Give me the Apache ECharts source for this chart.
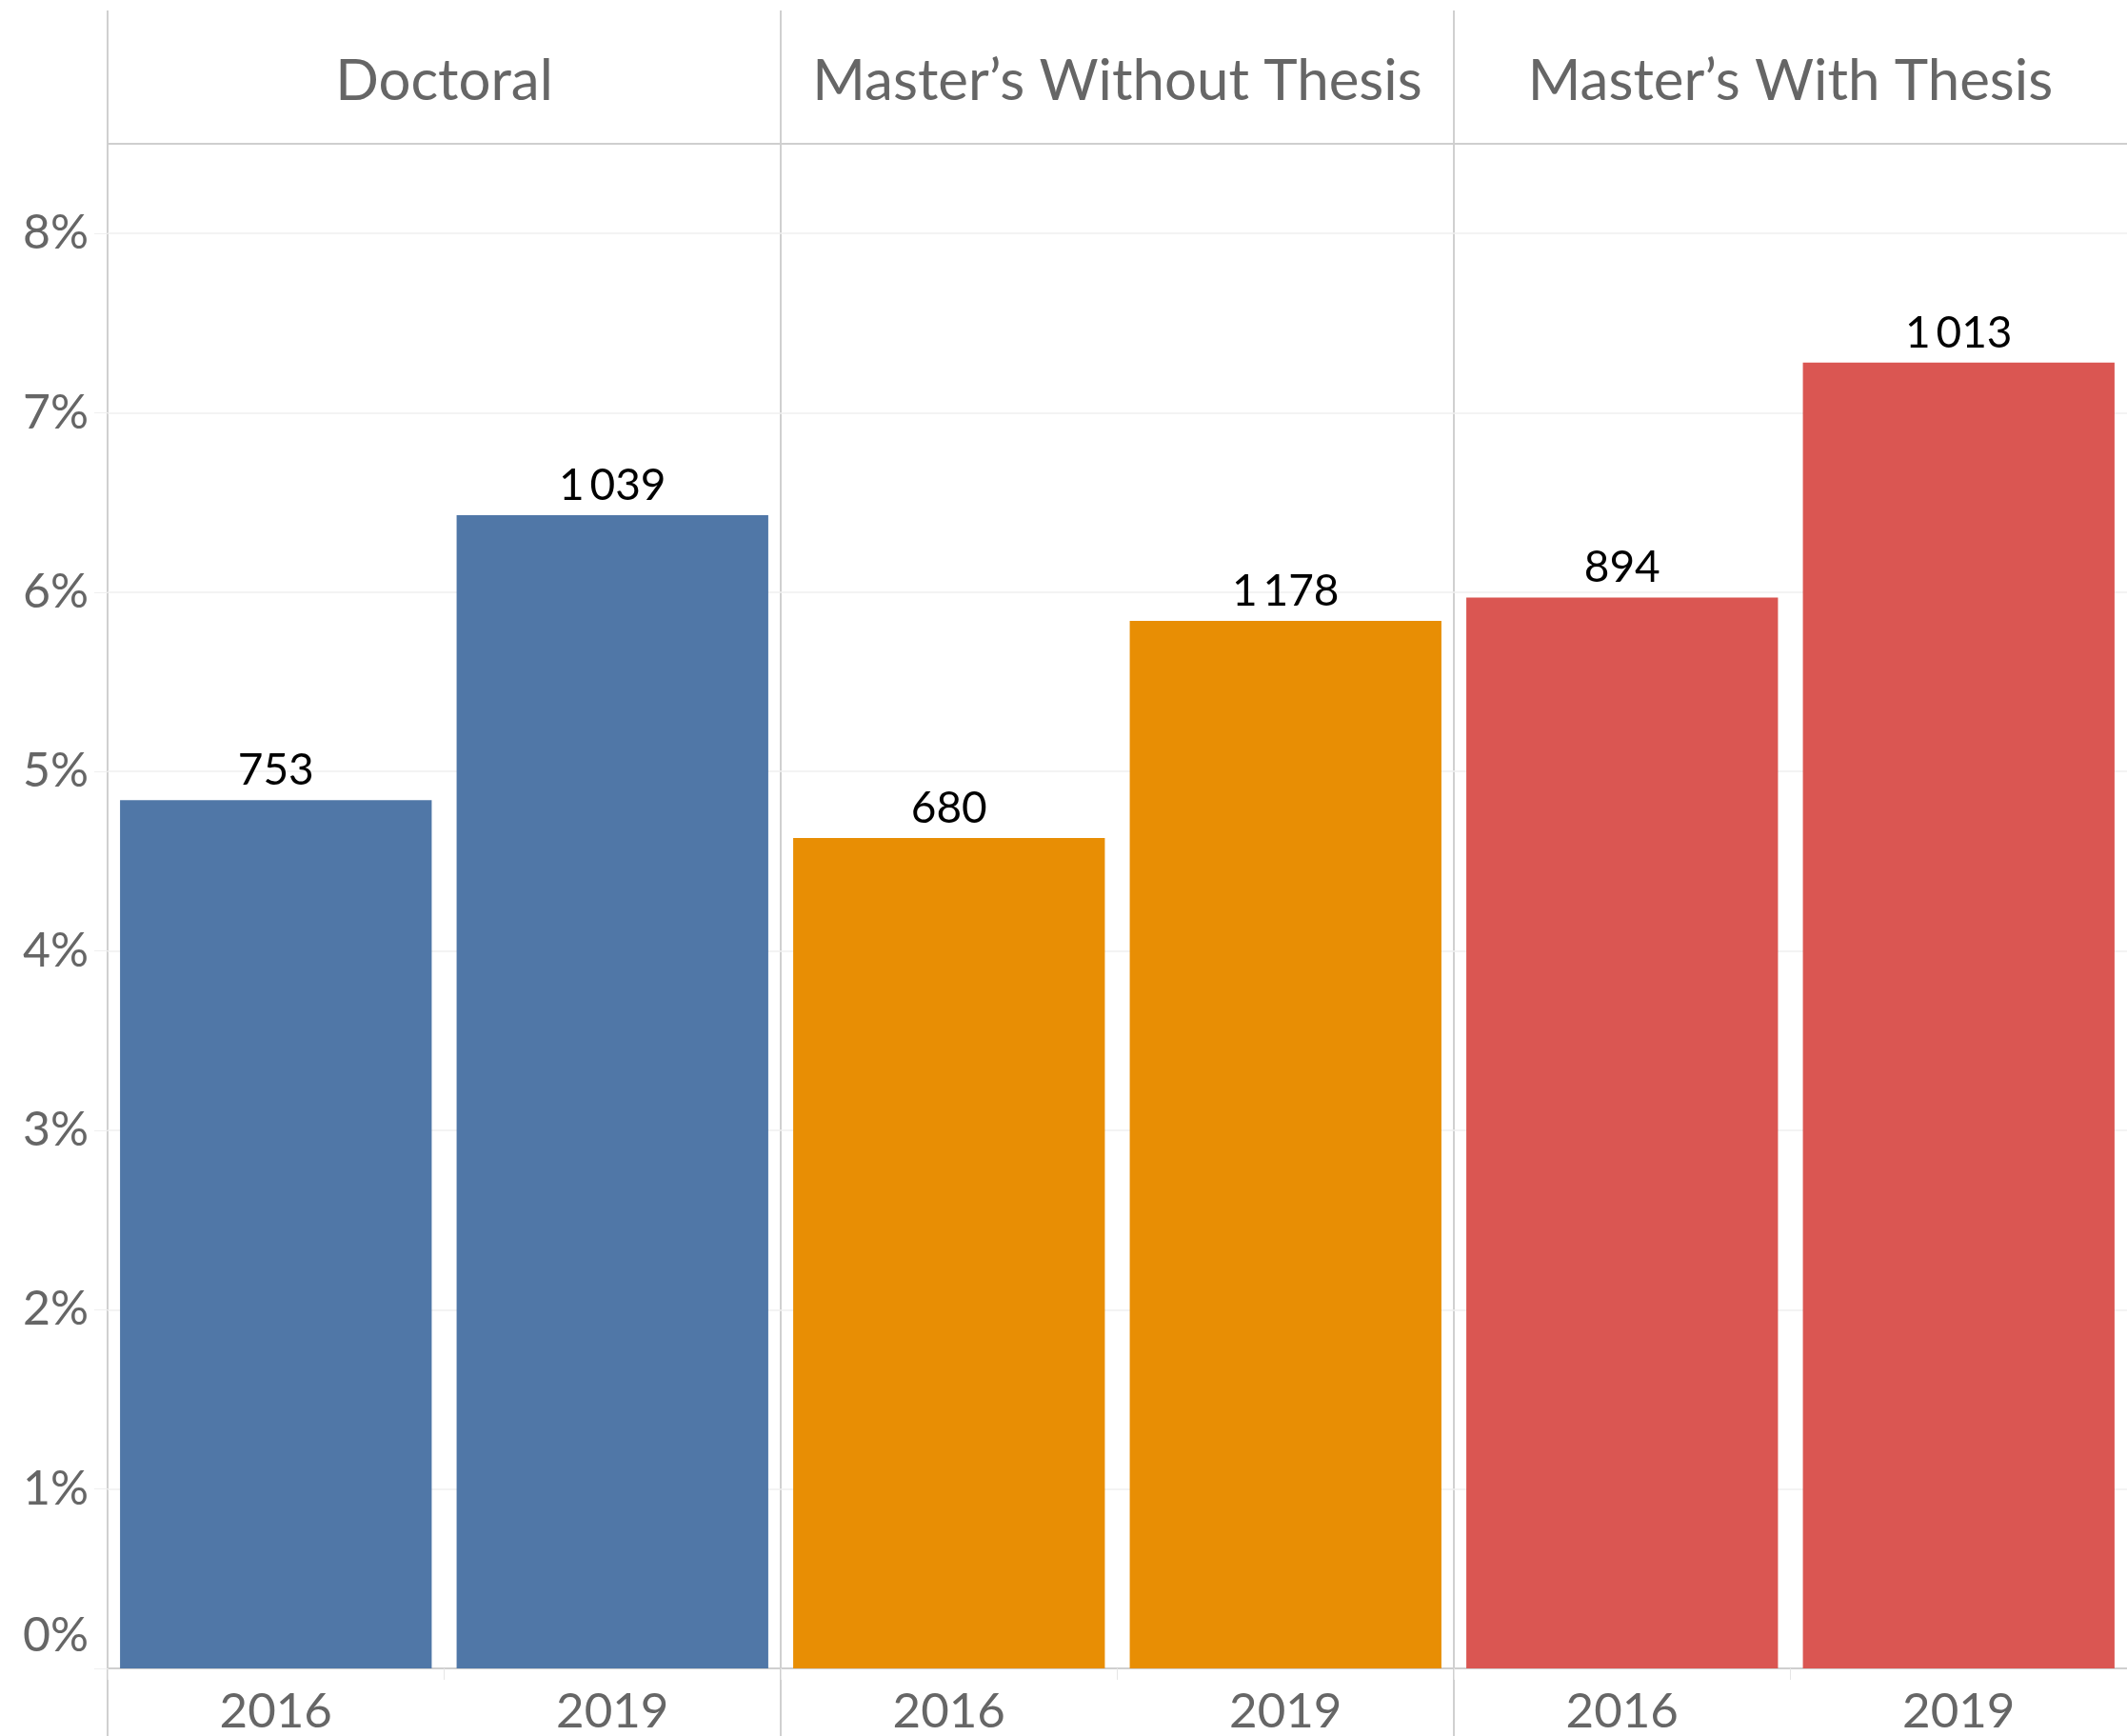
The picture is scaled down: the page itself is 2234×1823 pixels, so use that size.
<!DOCTYPE html>
<html>
<head>
<meta charset="utf-8">
<script src="https://cdn.jsdelivr.net/npm/echarts@6/dist/echarts.min.js"></script>
<style>
  html, body { margin: 0; padding: 0; background: #fff; }
  #chart { width: 2234px; height: 1823px; }
</style>
</head>
<body>
<div id="chart"></div>
<script>
// data
const groups = ['Doctoral', 'Master\u2019s Without Thesis', 'Master\u2019s With Thesis']
const years = ['2016', '2019']
const pctDoctoral = [4.84, 6.43]
const pctWithout = [4.63, 5.84]
const pctWith = [5.97, 7.28]
const countDoctoral = [753, 1039]
const countWithout = [680, 1178]
const countWith = [894, 1013]
const yTicks = [0, 1, 2, 3, 4, 5, 6, 7, 8]

const pcts = [pctDoctoral, pctWithout, pctWith]
const counts = [countDoctoral, countWithout, countWith]
const colors = ['#5077a7', '#e88e04', '#da5652']

const FONT = 'Lato'
const W = 2234, H = 1823
const LEFT = 113, TOP = 151, BOTTOM = 71, HEAD_TOP = 11
const panelW = (W - LEFT) / 3

function fmtCount(n){
  if(n < 1000) return String(n)
  let rest = String(n % 1000).padStart(3, '0')
  return Math.floor(n / 1000) + '\u2009' + rest
}

let chart = echarts.init(document.getElementById('chart'))

let grids = [], xAxes = [], yAxes = [], series = [], lines = []
groups.forEach((g, i) => {
  grids.push({left: LEFT + i * panelW, width: panelW, top: TOP, bottom: BOTTOM, containLabel: false})
  // bottom year axis
  xAxes.push({
    type: 'category', gridIndex: i, data: years, position: 'bottom',
    axisLine: {lineStyle: {color: '#cfcfcf', width: 2}},
    axisTick: {show: true, length: 12, alignWithLabel: false, lineStyle: {color: '#e6e6e6'}},
    axisLabel: {fontFamily: FONT, fontSize: 51, color: '#666', margin: 20}
  })
  // header axis
  xAxes.push({
    type: 'category', gridIndex: i, data: [g], position: 'top',
    axisLine: {lineStyle: {color: '#cfcfcf', width: 2}},
    axisTick: {show: false},
    axisLabel: {fontFamily: FONT, fontSize: 60, color: '#666', margin: 35}
  })
  yAxes.push({
    type: 'value', gridIndex: i, min: 0, max: 8.5, interval: 1,
    axisLine: {show: false},
    axisTick: {show: i === 0, length: 14, lineStyle: {color: '#efefef'}},
    splitLine: {lineStyle: {color: '#efefef', width: 1.5}},
    axisLabel: {
      show: i === 0, fontFamily: FONT, fontSize: 50, color: '#666', margin: 20,
      showMaxLabel: false,
      formatter: v => v === 0 ? '{z|0%}' : (yTicks.indexOf(v) >= 0 ? v + '%' : ''),
      rich: {z: {fontFamily: FONT, fontSize: 50, color: '#666', padding: [0, 0, 68, 0]}}
    }
  })
  series.push({
    type: 'bar', xAxisIndex: i * 2, yAxisIndex: i,
    data: pcts[i], barCategoryGap: '7.4%',
    itemStyle: {color: colors[i]},
    label: {
      show: true, position: 'top', distance: 8,
      fontFamily: FONT, fontSize: 46, color: '#000',
      formatter: p => fmtCount(counts[i][p.dataIndex])
    },
    silent: true
  })
  lines.push({
    type: 'line', silent: true,
    shape: {x1: LEFT + i * panelW, y1: HEAD_TOP, x2: LEFT + i * panelW, y2: H},
    style: {stroke: '#d0d0d0', lineWidth: 2}
  })
})

chart.setOption({
  backgroundColor: '#fff',
  animation: false,
  grid: grids,
  xAxis: xAxes,
  yAxis: yAxes,
  series: series,
  graphic: lines
})
</script>
</body>
</html>
